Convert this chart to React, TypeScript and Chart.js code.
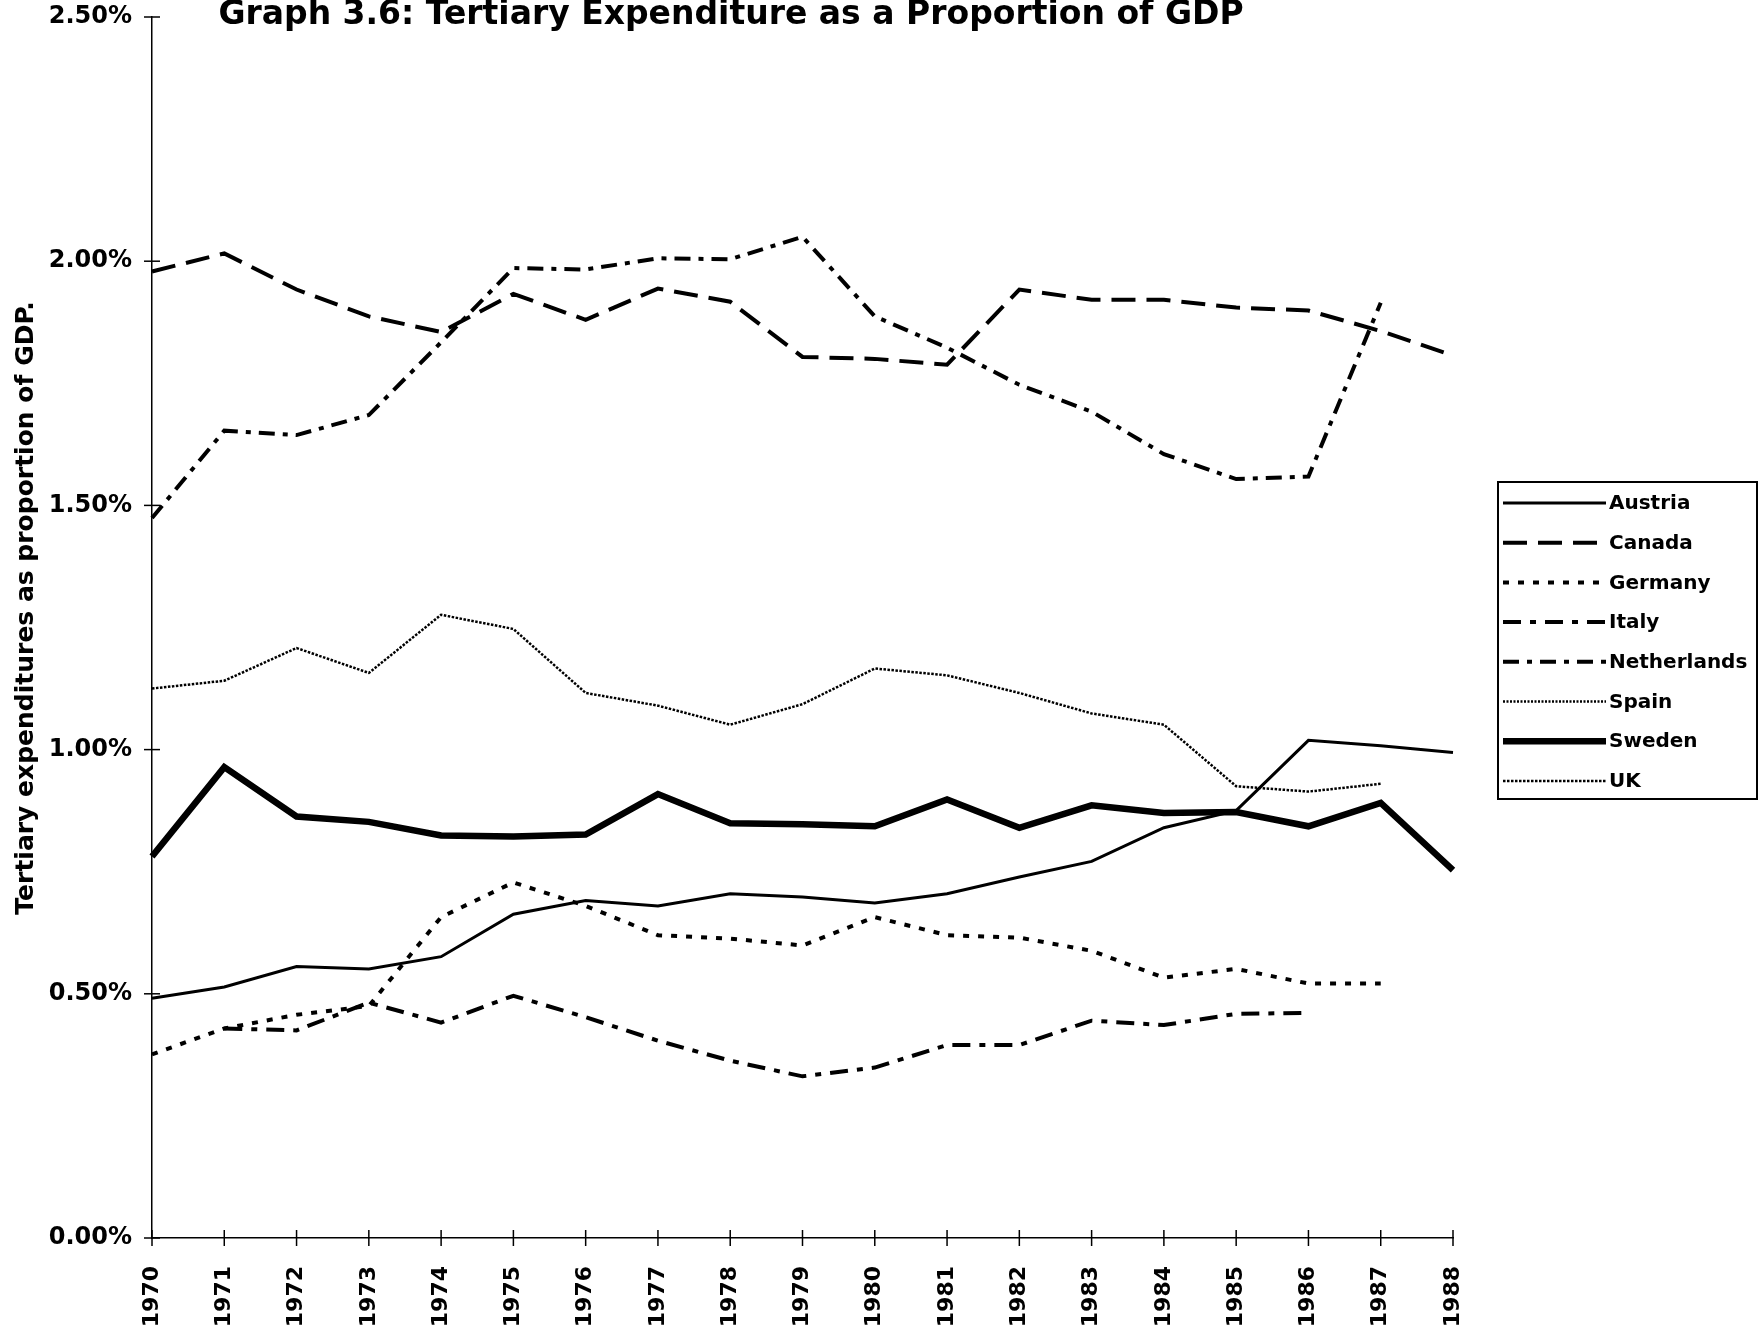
import React, { useEffect, useRef } from "react";
import { Chart, registerables } from "chart.js";

Chart.register(...registerables);

const years = ["1970","1971","1972","1973","1974","1975","1976","1977","1978","1979","1980","1981","1982","1983","1984","1985","1986","1987","1988"];

const austria = [0.491,0.514,0.556,0.551,0.576,0.663,0.691,0.680,0.705,0.698,0.686,0.705,0.739,0.771,0.840,0.875,1.019,1.008,0.994];
const canada = [1.979,2.016,1.942,1.887,1.855,1.933,1.880,1.944,1.917,1.804,1.800,1.788,1.942,1.921,1.921,1.905,1.899,1.857,1.807];
const germany = [0.376,0.429,0.457,0.475,0.657,0.728,0.680,0.620,0.613,0.599,0.657,0.620,0.615,0.588,0.533,0.551,0.521,0.521,null];
const italy = [null,0.429,0.425,0.482,0.441,0.496,0.452,0.404,0.363,0.331,0.349,0.395,0.395,0.445,0.436,0.459,0.461,null,null];
const netherlands = [1.474,1.653,1.644,1.685,1.834,1.986,1.983,2.006,2.004,2.050,1.887,1.823,1.747,1.692,1.605,1.554,1.559,1.915,null];
const spain: (number | null)[] = [null,null,null,null,null,null,null,null,null,null,null,null,null,null,null,null,null,null,null];
const sweden = [0.781,0.964,0.863,0.852,0.824,0.822,0.826,0.909,0.849,0.847,0.843,0.898,0.840,0.886,0.870,0.872,0.843,0.891,0.753];
const uk = [1.125,1.141,1.208,1.157,1.276,1.247,1.116,1.090,1.051,1.093,1.166,1.152,1.116,1.074,1.051,0.925,0.914,0.930,null];

const yTicks = [0, 0.5, 1.0, 1.5, 2.0, 2.5];

const titleText = "Graph 3.6: Tertiary Expenditure as a Proportion of GDP";
const yTitle = "Tertiary expenditures as proportion of GDP.";

const FONT = "'DejaVu Sans', 'Liberation Sans', sans-serif";

const decorPlugin = {
  id: "decor",
  afterDraw(chart: any) {
    const ctx = chart.ctx;
    const xs = chart.scales.x;
    const ys = chart.scales.y;
    const area = chart.chartArea;
    ctx.save();
    // crossing tick marks
    ctx.strokeStyle = "#000";
    ctx.lineWidth = 1.5;
    ctx.setLineDash([]);
    for (let i = 0; i < xs.ticks.length; i++) {
      const px = xs.getPixelForTick(i);
      ctx.beginPath();
      ctx.moveTo(px, area.bottom - 8);
      ctx.lineTo(px, area.bottom + 8);
      ctx.stroke();
    }
    for (let i = 0; i < ys.ticks.length; i++) {
      const py = ys.getPixelForValue(ys.ticks[i].value);
      ctx.beginPath();
      ctx.moveTo(area.left - 8, py);
      ctx.lineTo(area.left + 8, py);
      ctx.stroke();
    }
    // title
    ctx.fillStyle = "#000";
    ctx.font = `bold 33px ${FONT}`;
    ctx.textAlign = "center";
    ctx.textBaseline = "alphabetic";
    ctx.fillText(titleText, 731, 24);

    // y-axis title
    ctx.save();
    ctx.translate(26, 608);
    ctx.rotate(-Math.PI / 2);
    ctx.font = `bold 25px ${FONT}`;
    ctx.textAlign = "center";
    ctx.textBaseline = "middle";
    ctx.fillText(yTitle, 0, 0);
    ctx.restore();

    // legend
    const lx = 1498, ly = 482, lw = 259, lh = 317;
    ctx.lineWidth = 2;
    ctx.strokeRect(lx, ly, lw, lh);
    const ds = chart.data.datasets;
    ctx.font = `bold 20px ${FONT}`;
    ctx.textAlign = "left";
    ctx.textBaseline = "middle";
    for (let i = 0; i < ds.length; i++) {
      const y = 503 + i * 39.7;
      ctx.beginPath();
      ctx.setLineDash(ds[i].borderDash || []);
      ctx.lineWidth = ds[i].borderWidth;
      ctx.moveTo(1503, y);
      ctx.lineTo(1606, y);
      ctx.stroke();
      ctx.setLineDash([]);
      ctx.fillText(ds[i].label, 1609, y + 1);
    }
    ctx.restore();
  },
};

export default function App() {
  const ref = useRef<HTMLCanvasElement>(null);
  useEffect(() => {
    document.body.style.margin = "0";
    const mk = (label: string, data: any[], width: number, dash: number[]) => ({
      label,
      data,
      borderColor: "#000",
      backgroundColor: "#000",
      borderWidth: width,
      borderDash: dash,
      pointRadius: 0,
      fill: false,
      tension: 0,
      spanGaps: false,
    });
    const chart = new Chart(ref.current as HTMLCanvasElement, {
      type: "line",
      data: {
        labels: years,
        datasets: [
          mk("Austria", austria, 3, []),
          mk("Canada", canada, 4, [24, 11]),
          mk("Germany", germany, 4, [6, 9]),
          mk("Italy", italy, 4, [18, 9, 6, 9]),
          mk("Netherlands", netherlands, 4, [16, 8, 5, 8]),
          mk("Spain", spain, 2.5, [2, 1.5]),
          mk("Sweden", sweden, 6.5, []),
          mk("UK", uk, 2.5, [2.5, 1.5]),
        ],
      },
      options: {
        animation: false,
        responsive: false,
        devicePixelRatio: 1,
        layout: { padding: { top: 17, right: 306, left: 0, bottom: 0 } },
        plugins: { legend: { display: false }, title: { display: false }, tooltip: { enabled: false } },
        scales: {
          x: {
            type: "category",
            offset: false,
            grid: { display: false },
            border: { display: true, color: "#000", width: 1.5 },
            ticks: {
              autoSkip: false,
              minRotation: 90,
              maxRotation: 90,
              padding: 20,
              color: "#000",
              font: { family: FONT, weight: "bold", size: 22 },
            },
            afterFit: (s: any) => { s.height = 94; s.paddingLeft = 0; s.paddingRight = 0; },
          },
          y: {
            min: 0,
            max: 2.5,
            afterBuildTicks: (s: any) => { s.ticks = yTicks.map((v) => ({ value: v })); },
            grid: { display: false },
            border: { display: true, color: "#000", width: 1.5 },
            ticks: {
              padding: 12,
              color: "#000",
              font: { family: FONT, weight: "bold", size: 24 },
              callback: (v: any) => Number(v).toFixed(2) + "%",
            },
            afterFit: (s: any) => { s.width = 152; s.paddingTop = 0; s.paddingBottom = 0; },
          },
        },
      },
      plugins: [decorPlugin],
    });
    return () => chart.destroy();
  }, []);
  return (
    <canvas
      ref={ref}
      width={1759}
      height={1332}
      style={{ position: "absolute", left: 0, top: 0, width: 1759, height: 1332, background: "#fff" }}
    />
  );
}
